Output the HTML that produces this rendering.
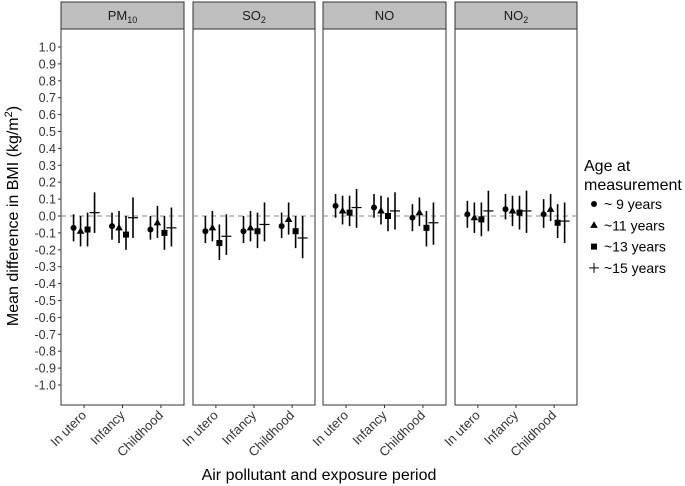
<!DOCTYPE html>
<html><head><meta charset="utf-8"><style>
body{margin:0;background:#fff}
svg{display:block;font-family:"Liberation Sans",Arial,sans-serif}
</style></head><body>
<svg id="chart" width="685" height="486" viewBox="0 0 685 486">
<g id="g"></g>
</svg>
<script>
const pollutants=["PM10","SO2","NO","NO2"];
const periods=["In utero","Infancy","Childhood"];
const ages=["~ 9 years","~11 years","~13 years","~15 years"];
// est[pollutant][period][age]
const est=[
 [[-0.07,-0.09,-0.08,0.02],[-0.06,-0.07,-0.11,-0.01],[-0.08,-0.04,-0.10,-0.07]],
 [[-0.09,-0.07,-0.16,-0.12],[-0.09,-0.07,-0.09,-0.05],[-0.06,-0.02,-0.09,-0.13]],
 [[0.06,0.03,0.02,0.05],[0.05,0.03,0.00,0.03],[-0.01,0.02,-0.07,-0.04]],
 [[0.01,-0.01,-0.02,0.03],[0.04,0.03,0.02,0.03],[0.01,0.04,-0.04,-0.03]]
];
const lower=[
 [[-0.15,-0.18,-0.18,-0.10],[-0.14,-0.16,-0.20,-0.13],[-0.14,-0.13,-0.20,-0.18]],
 [[-0.16,-0.15,-0.26,-0.23],[-0.16,-0.15,-0.19,-0.15],[-0.13,-0.11,-0.19,-0.25]],
 [[-0.01,-0.05,-0.06,-0.07],[-0.01,-0.05,-0.09,-0.08],[-0.09,-0.06,-0.18,-0.17]],
 [[-0.07,-0.10,-0.12,-0.09],[-0.02,-0.06,-0.08,-0.10],[-0.07,-0.03,-0.13,-0.16]]
];
const upper=[
 [[0.01,0.00,0.02,0.14],[0.02,0.03,0.00,0.11],[0.00,0.06,0.00,0.05]],
 [[0.00,0.03,-0.05,0.01],[0.00,0.03,0.02,0.08],[0.02,0.08,0.00,0.00]],
 [[0.13,0.12,0.12,0.16],[0.13,0.12,0.11,0.14],[0.07,0.11,0.03,0.08]],
 [[0.09,0.08,0.08,0.15],[0.13,0.12,0.12,0.15],[0.10,0.13,0.07,0.08]]
];
const yTicks=[1.0,0.9,0.8,0.7,0.6,0.5,0.4,0.3,0.2,0.1,0.0,-0.1,-0.2,-0.3,-0.4,-0.5,-0.6,-0.7,-0.8,-0.9,-1.0];
const NS="http://www.w3.org/2000/svg";
const g=document.getElementById('g');
function mk(t,a,p){const e=document.createElementNS(NS,t);for(const k in a)e.setAttribute(k,a[k]);(p||g).appendChild(e);return e;}
const panelX=[[61,184],[193,315],[323,446],[455,577]];
const topY=29,bottomY=405;
function y(v){return 216-169*v;}
function xCat(p,i){const [a,b]=panelX[p];return a+(b-a)*(i+1-0.4)/3.2;}
const dodge=[-10.5,-3.5,3.5,10.5];
const labels=[["PM","10"],["SO","2"],["NO",""],["NO","2"]];
panelX.forEach(([a,b],p)=>{
  const pg=mk('g',{});
  
  
  const st=mk('rect',{x:a,y:2,width:b-a,height:topY-2,fill:'#bebebe',stroke:'#333','stroke-width':1},pg);
  
  
  const t=mk('text',{x:(a+b)/2,y:20,'text-anchor':'middle','font-size':13,fill:'#1a1a1a'},pg);
  t.textContent=labels[p][0];
  if(labels[p][1]){const s=mk('tspan',{'font-size':9,dy:3},t);s.textContent=labels[p][1];}
  
  
  mk('rect',{x:a,y:topY,width:b-a,height:bottomY-topY,fill:'#fff',stroke:'#333','stroke-width':1},pg);
  const zl=mk('line',{x1:a,x2:b,y1:y(0),y2:y(0),stroke:'#888','stroke-width':1,'stroke-dasharray':'5,4'},pg);
  
  
  periods.forEach((per,i)=>{
    const cx=xCat(p,i);
    mk('line',{x1:cx,x2:cx,y1:bottomY,y2:bottomY+3,stroke:'#333'},pg);
    const lt=mk('text',{x:cx+3,y:bottomY+11,'text-anchor':'end','font-size':13,fill:'#333',transform:`rotate(-45 ${cx+3} ${bottomY+11})`},pg);
    lt.textContent=per;
    
    
    ages.forEach((ag,k)=>{
      const px=cx+dodge[k];
      const mg=mk('g',{},pg);
      
      
      mk('line',{x1:px,x2:px,y1:y(upper[p][i][k]),y2:y(lower[p][i][k]),stroke:'#000','stroke-width':1.6},mg);
      const py=y(est[p][i][k]);
      if(k===0)mk('circle',{cx:px,cy:py,r:3,fill:'#000'},mg);
      else if(k===1)mk('path',{d:`M${px},${py-4}L${px+3.8},${py+2.6}L${px-3.8},${py+2.6}Z`,fill:'#000'},mg);
      else if(k===2)mk('rect',{x:px-3,y:py-3,width:6,height:6,fill:'#000'},mg);
      else mk('line',{x1:px-5,x2:px+5,y1:py,y2:py,stroke:'#000','stroke-width':1.2},mg);
    });
  });
});
yTicks.forEach(v=>{
  mk('line',{x1:58,x2:61,y1:y(v),y2:y(v),stroke:'#333'});
  const t=mk('text',{x:56,y:y(v)+4.5,'text-anchor':'end','font-size':12.5,fill:'#333'});
  t.textContent=v.toFixed(1);
  
  
});
const yt=mk('text',{x:18,y:216,'text-anchor':'middle','font-size':16,fill:'#000',transform:'rotate(-90 18 216)'});
yt.innerHTML='Mean difference in BMI (kg/m<tspan font-size="11" dy="-6">2</tspan><tspan dy="6">)</tspan>';


const xt=mk('text',{x:319,y:480,'text-anchor':'middle','font-size':16,fill:'#000'});
xt.textContent='Air pollutant and exposure period';


const lg=mk('g',{});


const l1=mk('text',{x:584,y:171,'font-size':16,fill:'#000'},lg);l1.textContent='Age at';
const l2=mk('text',{x:584,y:190,'font-size':16,fill:'#000'},lg);l2.textContent='measurement';
ages.forEach((ag,k)=>{
  const ly=204+k*21.3, lx=594;
  const e=mk('g',{},lg);
  
  
  if(k===0)mk('circle',{cx:lx,cy:ly,r:3,fill:'#000'},e);
  else if(k===1)mk('path',{d:`M${lx},${ly-4}L${lx+3.8},${ly+2.6}L${lx-3.8},${ly+2.6}Z`,fill:'#000'},e);
  else if(k===2)mk('rect',{x:lx-3,y:ly-3,width:6,height:6,fill:'#000'},e);
  else{mk('line',{x1:lx-5,x2:lx+5,y1:ly,y2:ly,stroke:'#000'},e);mk('line',{x1:lx,x2:lx,y1:ly-5,y2:ly+5,stroke:'#000'},e);}
  const t=mk('text',{x:604,y:ly+5,'font-size':14,fill:'#000'},e);t.textContent=ag;
});
</script>
</body></html>
